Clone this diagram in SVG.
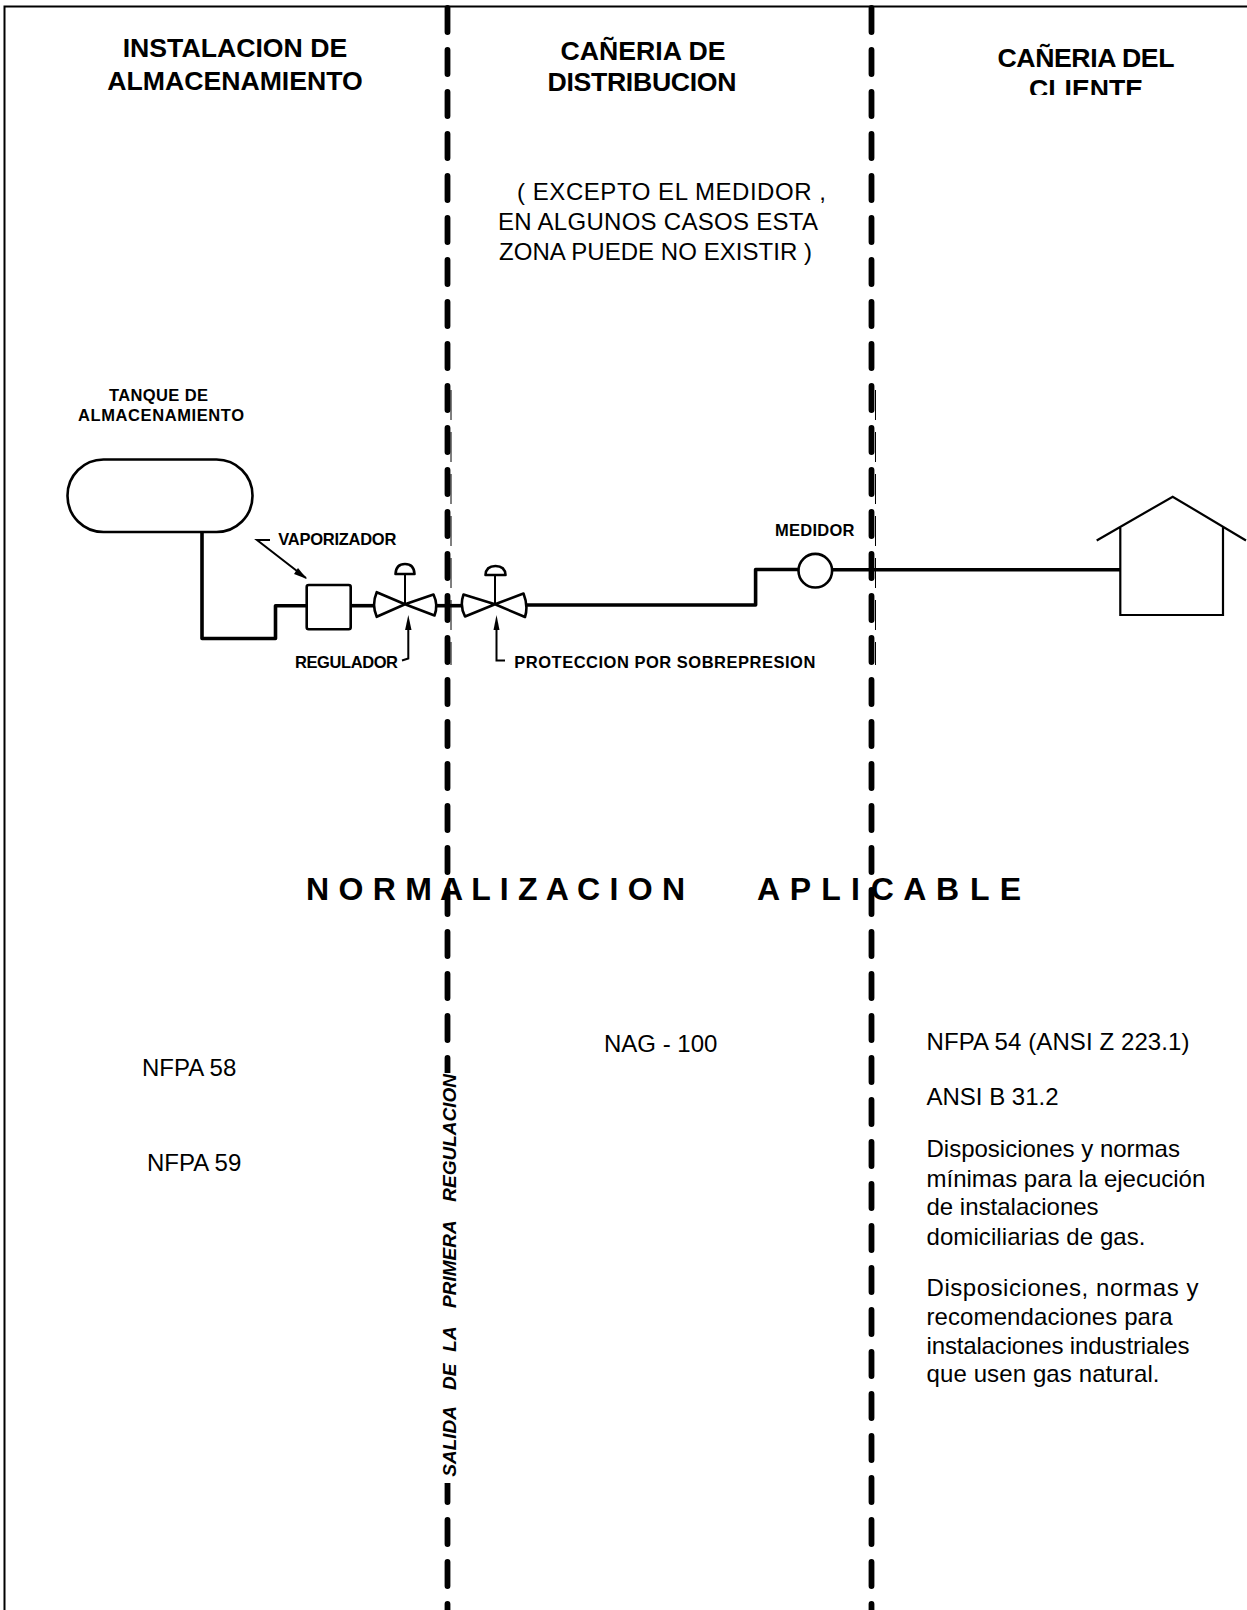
<svg xmlns="http://www.w3.org/2000/svg" width="1247" height="1610" viewBox="0 0 1247 1610">
<style>
text{font-family:"Liberation Sans",Arial,sans-serif;fill:#000}
.t{font-size:26.67px;font-weight:bold;text-anchor:middle}
.b{font-size:24px}
.n{font-size:32px;font-weight:bold}
.l{font-size:16.5px;font-weight:bold}
.r{font-size:19px;font-weight:bold;font-style:italic}
.dash{fill:none;stroke:#000;stroke-width:5.8;stroke-linecap:round;stroke-dasharray:24 18}
.frame{fill:none;stroke:#000;stroke-width:2}
.pipe{fill:none;stroke:#000;stroke-width:3.6;stroke-linejoin:round}
.sym{fill:#fff;stroke:#000;stroke-width:2.6;stroke-linejoin:round}
.thin{fill:none;stroke:#000;stroke-width:2}
.fine{fill:none;stroke:#000;stroke-width:1;stroke-dasharray:30 12}
.head{fill:#000}
</style>
<defs>
<clipPath id="clipCliente"><rect x="900" y="60" width="340" height="35"/></clipPath>
</defs>
<rect width="1247" height="1610" fill="#fff"/>
<g id="frame">
<path class="frame" d="M4.5 1610V6.5H1247"/>
</g>
<g id="connectors">
<path class="dash" d="M447.5 8V1610"/>
<path class="dash" d="M871.5 8V1610"/>
<path class="fine" d="M451 382V665" stroke-dashoffset="-8"/>
<path class="fine" d="M875.5 382V665" stroke-dashoffset="-8"/>
<path class="pipe" d="M202 532V638.5H275.5V605.7H307"/>
<path class="pipe" d="M350.7 605.7H376"/>
<path class="pipe" d="M435 605.7H463"/>
<path class="pipe" d="M526 605H755.6V569.5H798"/>
<path class="pipe" d="M832.5 569.7H1120"/>
<path class="thin" d="M270 540H257L306 578"/>
<path class="head" d="M307 579L294 574L298 568Z"/>
<path class="thin" d="M402 660.5L408.3 658.5V625"/>
<path class="head" d="M408.3 615L411.5 630H405.1Z"/>
<path class="thin" d="M505 660.5H496.5V625"/>
<path class="head" d="M496.5 615L499.5 630H493.5Z"/>
</g>
<g id="tanque">
<rect class="sym" x="67.5" y="459.5" width="185" height="72.5" rx="36" ry="36"/>
<text class="l" x="109" y="400.7" textLength="99">TANQUE DE</text>
<text class="l" x="78" y="421" textLength="166">ALMACENAMIENTO</text>
</g>
<g id="vaporizador">
<rect class="sym" x="306.7" y="585" width="44" height="44.3" rx="2"/>
<text class="l" x="278.3" y="545" textLength="118">VAPORIZADOR</text>
</g>
<g id="regulador">
<path class="sym" d="M405 604.3L376.7 592.2Q371.5 604.5 376.7 616.8ZM405 604.3L433.5 594.5Q438.5 605 434.5 615.5Z"/>
<path class="thin" d="M405 604V574"/>
<path class="sym" d="M395.5 574Q396 564 405 564Q414 564 414.5 574Z"/>
<text class="l" x="295" y="668.3" textLength="103">REGULADOR</text>
</g>
<g id="proteccion">
<path class="sym" d="M495 604.3L463.5 594.5Q459.5 606 465 616.5ZM495 604.3L523.5 593.5Q528.5 606 525 617Z"/>
<path class="thin" d="M495 604V575"/>
<path class="sym" d="M485.5 575Q486 566 495.5 566Q505 566 505.5 575Z"/>
<text class="l" x="514.3" y="668.3" textLength="301">PROTECCION POR SOBREPRESION</text>
</g>
<g id="medidor">
<ellipse class="sym" cx="815.3" cy="570.7" rx="16.8" ry="16.8"/>
<text class="l" x="775" y="535.7" textLength="79.5">MEDIDOR</text>
</g>
<g id="casa">
<path class="thin" style="stroke-width:2.2" d="M1096.7 540.5L1172.7 496.7L1246 540.5M1120.3 527V615H1223V527"/>
</g>
<g id="salida">
<rect x="438" y="1073" width="20" height="410" fill="#fff"/>
<text class="r" transform="translate(455.5 1476.7) rotate(-90)">SALIDA <tspan x="86.7">DE</tspan> <tspan x="125">LA</tspan> <tspan x="168.7">PRIMERA</tspan> <tspan x="275">REGULACION</tspan></text>
</g>
<g id="titulos">
<text class="t" x="235" y="57">INSTALACION DE</text>
<text class="t" x="235" y="89.5">ALMACENAMIENTO</text>
<text class="t" x="643" y="59.5">CAÑERIA DE</text>
<text class="t" x="642" y="91" textLength="189">DISTRIBUCION</text>
<text class="t" x="1086" y="67" textLength="177">CAÑERIA DEL</text>
<text class="t" x="1086" y="98" clip-path="url(#clipCliente)">CLIENTE</text>
</g>
<g id="nota">
<text class="b" x="517" y="200" textLength="309">( EXCEPTO EL MEDIDOR ,</text>
<text class="b" x="498" y="230" textLength="320">EN ALGUNOS CASOS ESTA</text>
<text class="b" x="499" y="260" textLength="313">ZONA PUEDE NO EXISTIR )</text>
</g>
<g id="normalizacion">
<text class="n" x="306" y="900" textLength="379">N O R M A L I Z A C I O N</text>
<text class="n" x="757" y="900" textLength="264">A P L I C A B L E</text>
</g>
<g id="normas">
<text class="b" x="142" y="1076">NFPA 58</text>
<text class="b" x="147" y="1171">NFPA 59</text>
<text class="b" x="604" y="1052">NAG - 100</text>
<text class="b" x="926.5" y="1050" textLength="263">NFPA 54 (ANSI Z 223.1)</text>
<text class="b" x="926.5" y="1105">ANSI B 31.2</text>
<text class="b" x="926.5" y="1157">Disposiciones y normas</text>
<text class="b" x="926.5" y="1187">mínimas para la ejecución</text>
<text class="b" x="926.5" y="1215">de instalaciones</text>
<text class="b" x="926.5" y="1245" textLength="219">domiciliarias de gas.</text>
<text class="b" x="926.5" y="1296" textLength="272">Disposiciones, normas y</text>
<text class="b" x="926.5" y="1325" textLength="246">recomendaciones para</text>
<text class="b" x="926.5" y="1354" textLength="263">instalaciones industriales</text>
<text class="b" x="926.5" y="1382" textLength="233">que usen gas natural.</text>
</g>
</svg>
